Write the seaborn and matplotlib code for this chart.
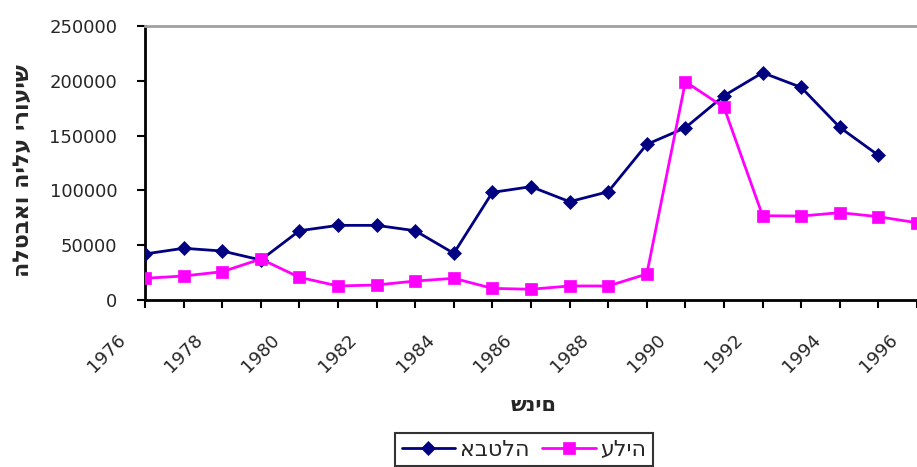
import matplotlib
matplotlib.use("Agg")
import matplotlib.pyplot as plt
import matplotlib.transforms as mtransforms
import seaborn as sns
import pandas as pd

# ---- data ----
years_unemployment = [1976, 1977, 1978, 1979, 1980, 1981, 1982, 1983, 1984, 1985,
                      1986, 1987, 1988, 1989, 1990, 1991, 1992, 1993, 1994, 1995]
unemployment = [42000, 47200, 44700, 36500, 63200, 68100, 68100, 63200, 42600, 98200,
                103400, 89700, 98800, 142000, 157200, 186400, 207400, 194000, 157500, 132000]

years_aliyah = [1976, 1977, 1978, 1979, 1980, 1981, 1982, 1983, 1984, 1985,
                1986, 1987, 1988, 1989, 1990, 1991, 1992, 1993, 1994, 1995, 1996]
aliyah = [19800, 21900, 25800, 37400, 20700, 12800, 13700, 17300, 19800, 10600,
          9800, 12800, 12800, 23700, 199200, 175800, 76900, 76600, 79700, 76000, 70500]

tick_years = [1976, 1977, 1978, 1979, 1980, 1981, 1982, 1983, 1984, 1985, 1986,
              1987, 1988, 1989, 1990, 1991, 1992, 1993, 1994, 1995, 1996]
label_years = [1976, 1978, 1980, 1982, 1984, 1986, 1988, 1990, 1992, 1994, 1996]
y_ticks = [0, 50000, 100000, 150000, 200000, 250000]

name_unemployment = "אבטלה"
name_aliyah = "עליה"
y_title = "שיעורי עליה ואבטלה"
x_title = "שנים"


def rtl(s):
    # matplotlib draws left-to-right; reverse so Hebrew reads right-to-left
    return s[::-1]


sns.set_style("white")
plt.rcParams["font.family"] = ["DejaVu Sans"]

W, H = 917, 467
fig = plt.figure(figsize=(W / 100, H / 100), dpi=100)
left, right, top, bottom = 145, 917, 26, 300
ax = fig.add_axes([left / W, 1 - bottom / H, (right - left) / W, (bottom - top) / H])

df_u = pd.DataFrame({"year": years_unemployment, "value": unemployment})
df_a = pd.DataFrame({"year": years_aliyah, "value": aliyah})

navy = "#000080"
pink = "#FF00FF"

# the reference shows the legend and x-title glyphs in stored (left-to-right) order
sns.lineplot(data=df_u, x="year", y="value", ax=ax, color=navy, linewidth=2.0,
             marker="D", markersize=7, markeredgecolor=navy, markeredgewidth=0.5,
             errorbar=None, label=name_unemployment, zorder=3)
sns.lineplot(data=df_a, x="year", y="value", ax=ax, color=pink, linewidth=2.0,
             marker="s", markersize=9.3, markeredgecolor=pink, markeredgewidth=0.5,
             errorbar=None, label=name_aliyah, zorder=4)

ax.set_xlim(1976, 1996)
ax.set_ylim(0, 250000)
ax.set_xlabel("")
ax.set_ylabel("")

ax.set_xticks(tick_years)
ax.set_xticklabels([str(y) if y in label_years else "" for y in tick_years])
ax.set_yticks(y_ticks)
ax.set_yticklabels([str(v) for v in y_ticks])

ax.tick_params(axis="x", direction="out", length=6, width=1.5, color="black",
               labelsize=13, pad=16, bottom=True)
ax.tick_params(axis="y", direction="out", length=6, width=1.5, color="black",
               labelsize=13, pad=14, left=True)

for lab in ax.get_xticklabels():
    lab.set_rotation(45)
    lab.set_ha("right")
    lab.set_va("top")
    lab.set_transform(lab.get_transform() +
                      mtransforms.ScaledTranslation(-16 / 100, 0, fig.dpi_scale_trans))

for side in ["left", "bottom"]:
    ax.spines[side].set_color("black")
    ax.spines[side].set_linewidth(2.0)
ax.spines["top"].set_color("#A0A0A0")
ax.spines["top"].set_linewidth(2.0)
ax.spines["right"].set_visible(False)
ax.grid(False)

fig.text(23 / W, 1 - 171 / H, rtl(y_title), rotation=90, ha="center", va="center",
         fontsize=16, fontweight="bold")
fig.text(534 / W, 1 - 405 / H, x_title, ha="center", va="center",
         fontsize=15, fontweight="bold")

handles, labels = ax.get_legend_handles_labels()
if ax.get_legend() is not None:
    ax.get_legend().remove()
leg = fig.legend(handles, labels, loc="upper center",
                 bbox_to_anchor=(524 / W, 1 - 433 / H), ncol=2, frameon=True,
                 fancybox=False, shadow=False, fontsize=16, handlelength=2.4,
                 handletextpad=0.2, columnspacing=0.6, borderpad=0.3,
                 borderaxespad=0)
leg.get_frame().set_edgecolor("black")
leg.get_frame().set_linewidth(1.5)

fig.savefig("out.png", dpi=100)
